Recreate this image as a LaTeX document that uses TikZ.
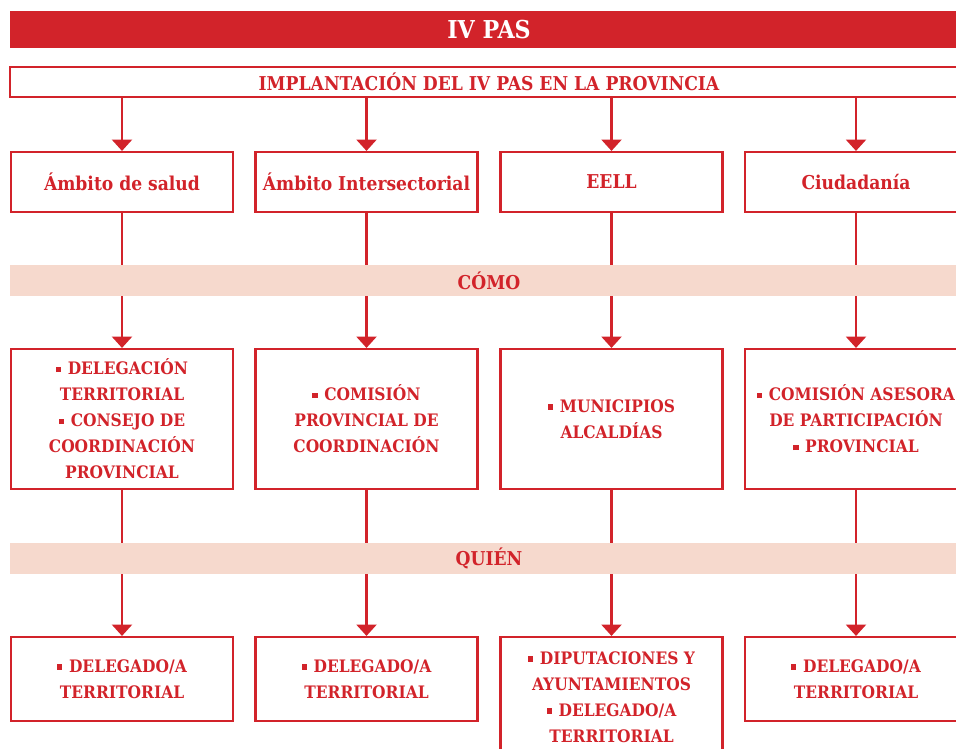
\documentclass[tikz,border=0pt]{standalone}
\usepackage{fontspec}
\setmainfont{DejaVu Serif Condensed}
\usetikzlibrary{arrows.meta,backgrounds}
\definecolor{pasred}{HTML}{D2232A}
\definecolor{pasband}{HTML}{F6D9CD}
\newcommand{\itm}{\rule[.3ex]{.58ex}{.58ex}\hspace{5pt}}
\tikzset{
  bx/.style={draw=pasred, line width=1.6pt, text=pasred, align=center, inner sep=0pt, font=\bfseries\fontsize{12.9}{19.5}\selectfont},
  head/.style={bx, minimum width=166.5pt, minimum height=45pt, font=\bfseries\fontsize{14.3}{17}\selectfont},
  how/.style={bx, minimum width=166.5pt, minimum height=105pt},
  who/.style={bx, minimum width=166.5pt, minimum height=63pt},
  band/.style={fill=pasband, text=pasred, minimum width=718.5pt, minimum height=23.25pt, inner sep=0pt, font=\bfseries\fontsize{14.3}{17}\selectfont},
  arr/.style={-{Triangle[width=15pt, length=8.5pt]}, line width=1.6pt, color=pasred},
}
\begin{document}
\begin{tikzpicture}[x=0.75pt, y=-0.75pt]
    \useasboundingbox (0,0) rectangle (956,749);
    \clip (0,0) rectangle (956,749);
    \node[fill=pasred, text=white, minimum width=718.5pt, minimum height=27.75pt, inner sep=0pt, font=\bfseries\fontsize{18.5}{22}\selectfont] (title) at (489,29.5) {IV PAS};
    \node[bx, minimum width=718.5pt, minimum height=22.5pt, font=\bfseries\fontsize{14.3}{17}\selectfont] (impl) at (489,82) {IMPLANTACIÓN DEL IV PAS EN LA PROVINCIA};
    % ambitos
    \node[head] (salud) at (122,182) {Ámbito de salud};
    \node[head] (inter) at (366.5,182) {Ámbito Intersectorial};
    \node[head] (eell) at (611.5,182) {EELL};
    \node[head] (ciud) at (856,182) {Ciudadanía};
    \node[band] (como) at (489,280.5) {CÓMO};
    % como
    \node[how] (salud2) at (122,419) {\itm DELEGACIÓN\\TERRITORIAL\\\itm CONSEJO DE\\COORDINACIÓN\\PROVINCIAL};
    \node[how] (inter2) at (366.5,419) {\itm COMISIÓN\\PROVINCIAL DE\\COORDINACIÓN};
    \node[how] (eell2) at (611.5,419) {\itm MUNICIPIOS\\ALCALDÍAS};
    \node[how] (ciud2) at (856,419) {\itm COMISIÓN ASESORA\\DE PARTICIPACIÓN\\\itm PROVINCIAL};
    \node[band] (quien) at (489,558.5) {QUIÉN};
    % quien
    \node[who] (salud3) at (122,679) {\itm DELEGADO/A\\TERRITORIAL};
    \node[who] (inter3) at (366.5,679) {\itm DELEGADO/A\\TERRITORIAL};
    \node[who, minimum height=90pt] (eell3) at (611.5,697) {\itm DIPUTACIONES Y\\AYUNTAMIENTOS\\\itm DELEGADO/A\\TERRITORIAL};
    \node[who] (ciud3) at (856,679) {\itm DELEGADO/A\\TERRITORIAL};
    \begin{scope}[on background layer]
      \foreach \c in {salud,inter,eell,ciud}{
        \draw[arr] (impl.south -| \c.north) -- (\c.north);
        \draw[arr] (\c.south) -- (\c2.north);
        \draw[arr] (\c2.south) -- (\c3.north);
      }
    \end{scope}
  \end{tikzpicture}
\end{document}
